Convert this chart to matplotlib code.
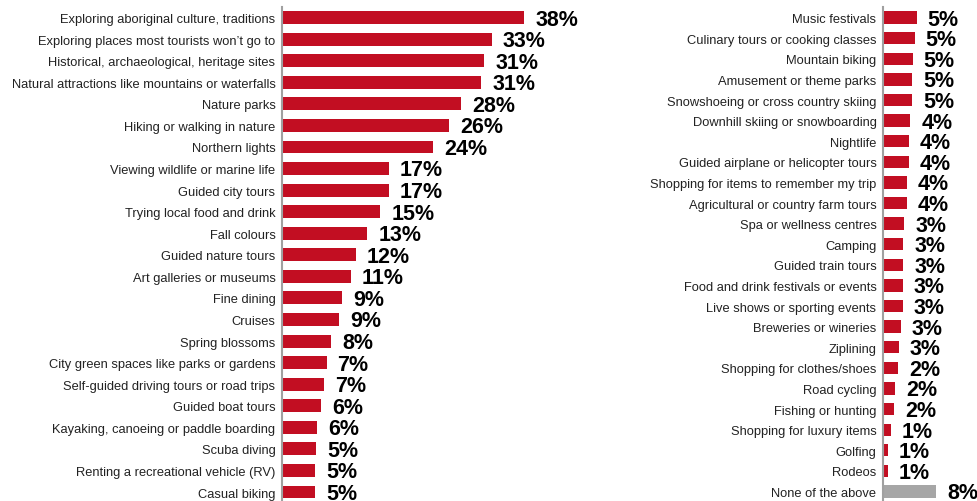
import matplotlib
matplotlib.use('Agg')
import matplotlib.pyplot as plt

plt.rcParams['font.family'] = ['Liberation Sans', 'DejaVu Sans']

left_cats = ['Exploring aboriginal culture, traditions',
             'Exploring places most tourists won\u2019t go to',
             'Historical, archaeological, heritage sites',
             'Natural attractions like mountains or waterfalls',
             'Nature parks',
             'Hiking or walking in nature',
             'Northern lights',
             'Viewing wildlife or marine life',
             'Guided city tours',
             'Trying local food and drink',
             'Fall colours',
             'Guided nature tours',
             'Art galleries or museums',
             'Fine dining',
             'Cruises',
             'Spring blossoms',
             'City green spaces like parks or gardens',
             'Self-guided driving tours or road trips',
             'Guided boat tours',
             'Kayaking, canoeing or paddle boarding',
             'Scuba diving',
             'Renting a recreational vehicle (RV)',
             'Casual biking']
left_vals = [37.9, 32.8, 31.6, 31.2, 28.0, 26.2, 23.7, 16.7, 16.7, 15.4, 13.4,
             11.6, 10.8, 9.4, 9.0, 7.7, 7.0, 6.6, 6.2, 5.5, 5.4, 5.2, 5.2]
left_labels = ['38%', '33%', '31%', '31%', '28%', '26%', '24%', '17%', '17%',
               '15%', '13%', '12%', '11%', '9%', '9%', '8%', '7%', '7%', '6%',
               '6%', '5%', '5%', '5%']

right_cats = ['Music festivals',
              'Culinary tours or cooking classes',
              'Mountain biking',
              'Amusement or theme parks',
              'Snowshoeing or cross country skiing',
              'Downhill skiing or snowboarding',
              'Nightlife',
              'Guided airplane or helicopter tours',
              'Shopping for items to remember my trip',
              'Agricultural or country farm tours',
              'Spa or wellness centres',
              'Camping',
              'Guided train tours',
              'Food and drink festivals or events',
              'Live shows or sporting events',
              'Breweries or wineries',
              'Ziplining',
              'Shopping for clothes/shoes',
              'Road cycling',
              'Fishing or hunting',
              'Shopping for luxury items',
              'Golfing',
              'Rodeos',
              'None of the above']
right_vals = [5.1, 4.8, 4.5, 4.4, 4.4, 4.1, 3.9, 3.9, 3.6, 3.6, 3.2, 3.1, 3.1,
              3.0, 3.0, 2.7, 2.4, 2.3, 1.9, 1.7, 1.2, 0.75, 0.75, 8.0]
right_labels = ['5%', '5%', '5%', '5%', '5%', '4%', '4%', '4%', '4%', '4%',
                '3%', '3%', '3%', '3%', '3%', '3%', '3%', '2%', '2%', '2%',
                '1%', '1%', '1%', '8%']

red = '#c20e22'
grey = '#a6a6a6'

fig = plt.figure(figsize=(9.78, 5.02), dpi=100)
ax1 = fig.add_axes([281.7 / 978, -0.0036, 288 / 978, 0.988])
ax2 = fig.add_axes([882.7 / 978, -0.0016, 95.3 / 978, 0.985])


def draw(ax, cats, vals, labels, xmax, colors):
    y = list(range(len(cats)))
    ax.barh(y, vals, height=0.6, color=colors)
    ax.set_ylim(len(cats) - 0.5, -0.5)
    ax.set_xlim(0, xmax)
    ax.set_yticks(y)
    ax.set_yticklabels(cats, fontsize=9.3, color='#222222')
    ax.tick_params(axis='y', length=0, pad=4.5)
    ax.set_xticks([])
    for s in ['top', 'right', 'bottom']:
        ax.spines[s].set_visible(False)
    ax.spines['left'].set_color('#a0a0a0')
    ax.spines['left'].set_linewidth(1.5)
    for yi, v, lab in zip(y, vals, labels):
        ax.annotate(lab, (v, yi), xytext=(8, -1), textcoords='offset points',
                    ha='left', va='center', fontsize=15.5, fontweight='bold',
                    color='black', annotation_clip=False)


draw(ax1, left_cats, left_vals, left_labels, 45, [red] * len(left_cats))
draw(ax2, right_cats, right_vals, right_labels, 14.3,
     [red] * (len(right_cats) - 1) + [grey])

fig.savefig('out.png', dpi=100)
